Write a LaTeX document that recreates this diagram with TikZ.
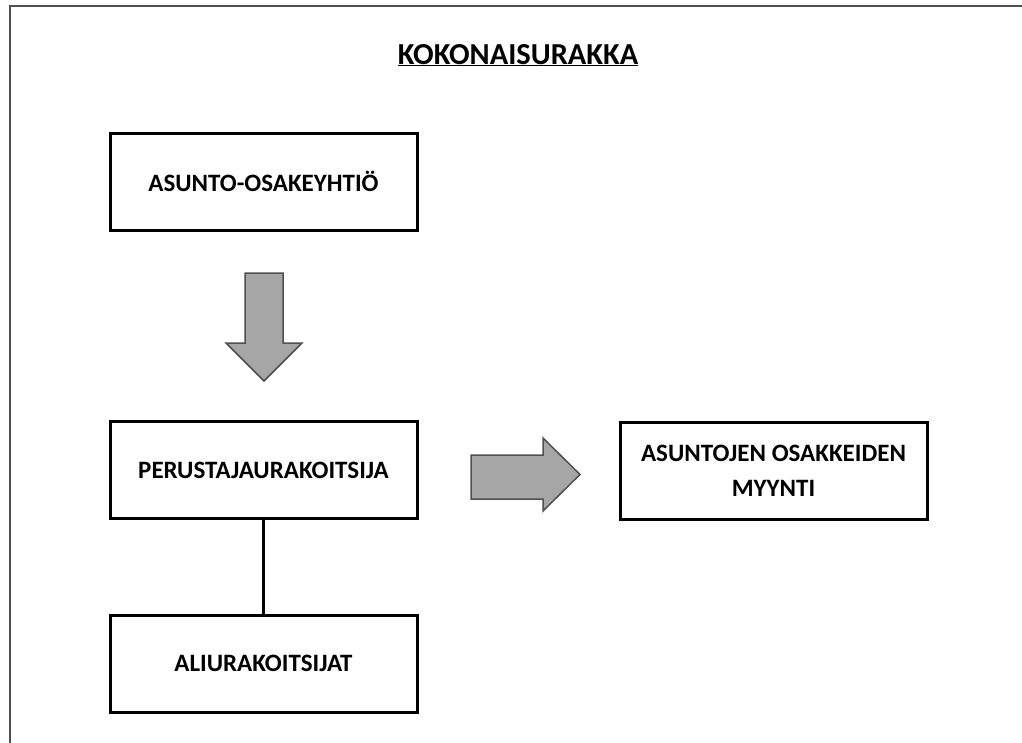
\documentclass[tikz,border=0pt]{standalone}
\usepackage{fontspec}
\setmainfont{Carlito}
\begin{document}
\begin{tikzpicture}[x=1pt,y=-1pt,
  box/.style={draw=black,line width=3pt,minimum width=307pt,minimum height=97pt,inner sep=0pt,align=center,font=\fontsize{25}{35}\selectfont\bfseries},
  blockarrow/.style={fill=arrowgray,draw=edgegray,line width=1.5pt,line join=miter},
  frameline/.style={draw=edgegray,line width=2pt}]
\definecolor{arrowgray}{HTML}{A6A6A6}
\definecolor{edgegray}{HTML}{505050}
\path[use as bounding box] (0,0) rectangle (1022,742);
\fill[white] (0,0) rectangle (1022,742);
\draw[frameline] (10,745) -- (10,6) -- (1025,6);
\node[font=\fontsize{30.5}{34}\selectfont\bfseries,anchor=base] (title) at (518,64) {\underline{KOKONAISURAKKA}};
\node[box] (aoy) at (263.5,181.5) {ASUNTO-OSAKEYHTIÖ};
\node[box] (pu) at (263.5,470) {PERUSTAJAURAKOITSIJA};
\node[box] (myynti) at (773.5,470.5) {ASUNTOJEN OSAKKEIDEN\\MYYNTI};
\node[box] (ali) at (263.5,663.5) {ALIURAKOITSIJAT};
\draw[line width=3pt] (pu.south) -- (ali.north);
\draw[blockarrow] (245,273) -- (283,273) -- (283,343) -- (302,343) -- (264,381) -- (226,343) -- (245,343) -- cycle;
\draw[blockarrow] (471,455) -- (543,455) -- (543,438) -- (580,474.5) -- (543,511) -- (543,499) -- (471,499) -- cycle;
\end{tikzpicture}
\end{document}
